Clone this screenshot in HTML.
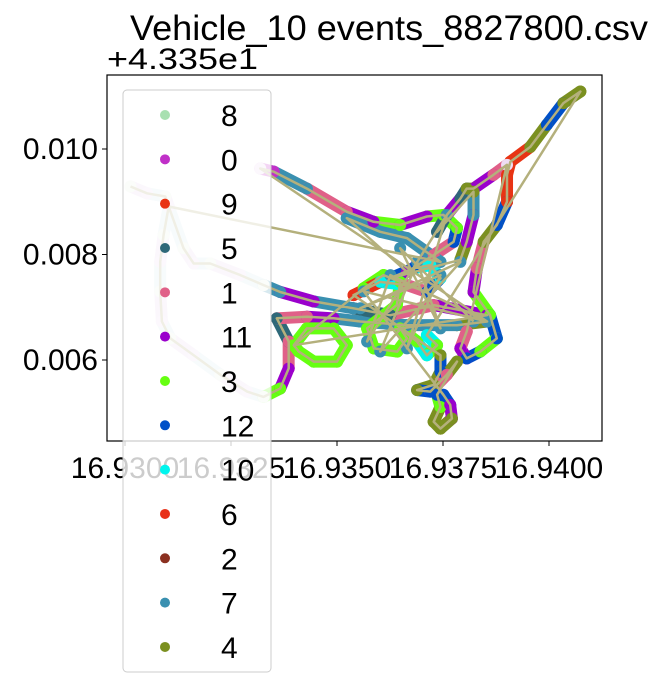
<!DOCTYPE html>
<html><head><meta charset="utf-8">
<style>
body{margin:0;background:#fff;width:657px;height:684px;overflow:hidden;font-family:"Liberation Sans",sans-serif;}
svg text{font-family:"Liberation Sans",sans-serif;}
</style></head>
<body>
<svg id="chart" width="657" height="684" xmlns="http://www.w3.org/2000/svg">
<text x="130" y="40" font-size="35" textLength="518" lengthAdjust="spacingAndGlyphs">Vehicle_10 events_8827800.csv</text>
<text x="107" y="69" font-size="30" textLength="151" lengthAdjust="spacingAndGlyphs">+4.335e1</text>
<g id="marks"></g>
<rect x="107" y="75" width="495" height="366" fill="none" stroke="#000" stroke-width="1.2"/>
<g id="axes"></g>
<g id="legend"></g>
</svg>
<script>
const lon = [16.93013,16.93052,16.93095,16.93103,16.93091,16.93083,16.93083,16.93087,16.93107,16.93162,16.93225,16.93288,16.93327,16.93366,16.93386,16.93386,16.93358,16.93429,16.93492,16.93555,16.93665,16.93783,16.93854,
16.93319,16.93351,16.93429,16.93523,16.93586,16.93649,16.93712,16.93751,16.93783,16.93775,16.93728,16.93665,
16.93523,16.93602,16.93665,16.93744,
16.93103,16.93138,16.93162,16.93201,16.93272,16.93327,16.93366,16.93445,16.93539,16.93626,16.93728,16.93854,
16.93398,16.93429,16.93492,16.93523,16.93500,16.93445,16.93410,16.93398,
16.93563,16.93610,16.93649,16.93641,16.93571,16.93587,16.93642,16.93665,16.93649,16.93689,16.93712,16.93736,16.93712,
16.94074,16.94034,16.93995,16.93956,16.93909,16.93901,16.93901,16.93877,16.93846,16.93830,16.93822,16.93861,16.93877,16.93838,16.93806,16.93791,16.93806,
16.93901,16.93869,16.93822,16.93806,16.93791,16.93759,16.93736,
16.93822,16.93822,16.93806,16.93791,
16.93626,16.93681,16.93720,16.93744,16.93712,16.93665,16.93602,16.93539,
16.93744,16.93744,16.93728,16.93689,16.93720,16.93759,16.93783,
16.93736,16.93744,16.93728,16.93744,16.93771,16.93767,16.93751,
16.93563,16.93854,16.93626,16.93571,16.93759,16.93665,16.93744,16.93555,16.93791,16.93602,16.93689,16.93744,16.93649,16.93822];
const lat = [43.35929,43.35916,43.35910,43.35891,43.35837,43.35786,43.35730,43.35673,43.35641,43.35609,43.35572,43.35540,43.35530,43.35546,43.35584,43.35635,43.35679,43.35682,43.35679,43.35673,43.35666,43.35666,43.35673,
43.35963,43.35957,43.35925,43.35881,43.35862,43.35856,43.35872,43.35875,43.35850,43.35824,43.35799,43.35767,
43.35869,43.35843,43.35831,43.35786,
43.35891,43.35812,43.35783,43.35783,43.35761,43.35742,43.35729,43.35711,43.35698,43.35685,43.35704,43.35685,
43.35628,43.35660,43.35660,43.35628,43.35597,43.35597,43.35616,43.35628,
43.35736,43.35761,43.35748,43.35704,43.35660,43.35622,43.35616,43.35641,43.35660,43.35635,43.35609,43.35628,43.35647,
43.36109,43.36087,43.36046,43.36004,43.35976,43.35951,43.35900,43.35856,43.35824,43.35774,43.35729,43.35685,43.35641,43.35616,43.35603,43.35622,43.35654,
43.35970,43.35951,43.35925,43.35925,43.35906,43.35875,43.35843,
43.35919,43.35875,43.35824,43.35790,
43.35755,43.35774,43.35780,43.35755,43.35729,43.35742,43.35748,43.35723,
43.35609,43.35578,43.35553,43.35543,43.35540,43.35572,43.35597,
43.35534,43.35511,43.35483,43.35470,43.35489,43.35515,43.35534,
43.35730,43.35673,43.35761,43.35635,43.35875,43.35622,43.35761,43.35698,43.35786,43.35616,43.35786,43.35660,43.35812,43.35673];
const cls = [8,8,8,8,8,8,8,8,8,8,8,8,8,3,11,1,5,1,11,7,7,7,4,
8,0,7,1,11,3,11,3,3,12,1,11,
7,7,7,7,
8,8,8,8,8,8,7,11,7,5,1,11,
3,3,3,3,3,3,3,3,
3,3,3,3,3,3,3,3,3,3,10,3,10,
4,4,12,4,9,9,9,12,4,1,11,3,12,3,12,11,1,
8,1,11,4,5,11,5,
4,7,11,4,
10,12,10,10,12,1,10,6,
4,12,4,4,12,1,4,
12,3,4,4,4,11,12,
7,7,7,7,7,7,7,7,7,7,7,7,7,7];
const faded = [1,1,1,1,1,1,1,1,1,1,1,1,1,0,0,0,0,0,0,0,0,0,0,
1,0,0,0,0,0,0,0,0,0,0,0,
0,0,0,0,
1,1,1,1,1,1,0,0,0,0,0,0,
0,0,0,0,0,0,0,0,0,0,0,0,0,0,0,0,0,0,0,0,0,
0,0,0,0,0,0,0,0,0,0,0,0,0,0,0,0,0,
1,0,0,0,0,0,0,0,0,0,0,0,0,0,0,0,0,0,0,0,0,0,0,0,0,0,0,0,0,0,0,0,0,0,0,0,0,0,0,0,0,0,0,0,0,0,0,0,0,0,0];
const jumpStart = [23,35,39,51,59,72,89,96,100,108,115,122,123,124,125,126,127,128,129,130,131,132,133,134,135];
const legendLabels = ["8","0","9","5","1","11","3","12","10","6","2","7","4"];
const legendClasses = [8,0,9,5,1,11,3,12,10,6,2,7,4];
const xTicks = [16.93,16.9325,16.935,16.9375,16.94];
const xTickLabels = ["16.9300","16.9325","16.9350","16.9375","16.9400"];
const yTicks = [0.006,0.008,0.010];
const yTickLabels = ["0.006","0.008","0.010"];

const colors = {8:"#a8e0b0",0:"#c030c8",9:"#e83414",5:"#2e6878",1:"#e06088",11:"#9a00cc",3:"#66ff11",12:"#0050c8",10:"#00f5ee",6:"#e83018",2:"#8b3020",7:"#3a90b0",4:"#7b9020"};
const X = v => 125 + (v-16.93)/0.0025*106;
const Y = v => 149 + (0.010-(v-43.35))/0.002*105.5;
const NS="http://www.w3.org/2000/svg";
function mk(tag, attrs, parent){const e=document.createElementNS(NS,tag);for(const k in attrs)e.setAttribute(k,attrs[k]);parent.appendChild(e);return e;}
const marks=document.getElementById('marks');
for(let i=1;i<lon.length;i++){
  if(jumpStart.includes(i)) continue;
  const f=faded[i];
  const s=mk('line',{x1:X(lon[i-1]),y1:Y(lat[i-1]),x2:X(lon[i]),y2:Y(lat[i]),stroke:f?(i%2?"#e8d4f0":"#d8e8f0"):colors[cls[i]],'stroke-width':12,'stroke-linecap':'round'},marks);
  
  
}
for(let i=0;i<lon.length;i++){
  const f=faded[i];
  const c=mk('circle',{cx:X(lon[i]),cy:Y(lat[i]),r:6,fill:f?(i%2?"#eedcf4":"#e8f2e4"):colors[cls[i]]},marks);
  
  
}
let d="";
for(let i=0;i<lon.length;i++){d+=(i?"L":"M")+X(lon[i]).toFixed(1)+" "+Y(lat[i]).toFixed(1);}
const pl=mk('path',{d:d,fill:"none",stroke:"#b4b07c",'stroke-width':2.5,'stroke-linejoin':'round'},marks);


const axes=document.getElementById('axes');
xTicks.forEach((t,i)=>{
  const x=X(t);
  const l=mk('line',{x1:x,y1:441,x2:x,y2:446,stroke:"#000"},axes);
  
  
  const tx=mk('text',{x:x,y:478,'font-size':30,'text-anchor':'middle'},axes);
  tx.textContent=xTickLabels[i];
  
  
});
yTicks.forEach((t,i)=>{
  const y=Y(43.35+t);
  const l=mk('line',{x1:102,y1:y,x2:107,y2:y,stroke:"#000"},axes);
  
  
  const tx=mk('text',{x:98,y:y+10,'font-size':30,'text-anchor':'end'},axes);
  tx.textContent=yTickLabels[i];
  
  
});
const lg=document.getElementById('legend');
const box=mk('rect',{x:123,y:90,width:148,height:582,rx:4,fill:"#fff",'fill-opacity':0.8,stroke:"#ccc"},lg);


legendLabels.forEach((lab,i)=>{
  const y=115+i*44.33;
  const g=mk('g',{},lg);
  
  
  mk('circle',{cx:165,cy:y,r:5,fill:colors[legendClasses[i]]},g);
  const t=mk('text',{x:221,y:y+11,'font-size':30},g);
  t.textContent=lab;
});
</script>
</body></html>
